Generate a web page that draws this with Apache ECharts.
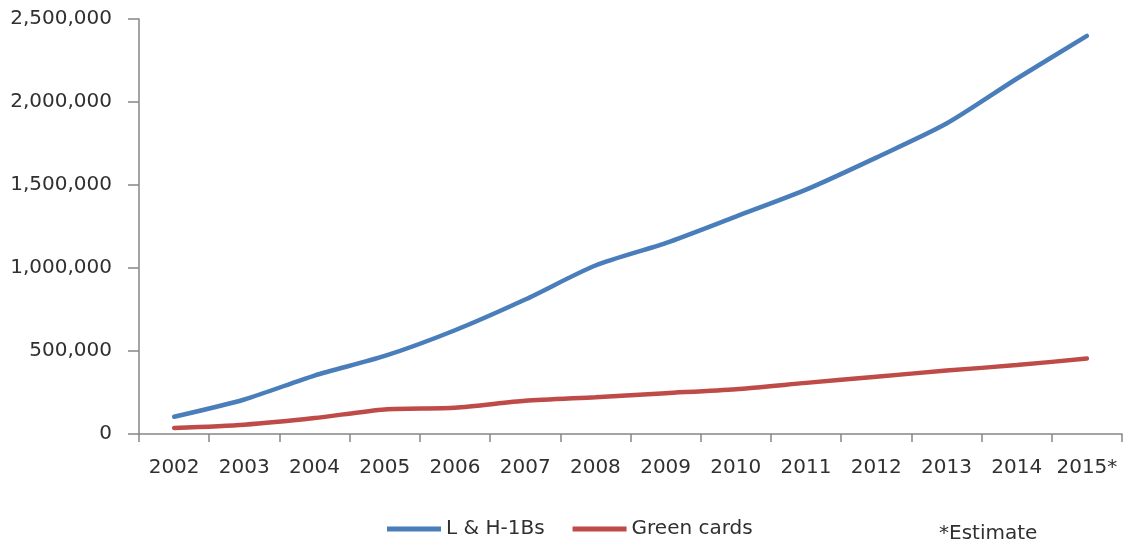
<!DOCTYPE html>
<html>
<head>
<meta charset="utf-8">
<script src="https://cdn.jsdelivr.net/npm/echarts@6/dist/echarts.min.js"></script>
<style>
  html, body { margin: 0; padding: 0; background: #fff; }
  #chart { width: 1123px; height: 544px; }
</style>
</head>
<body>
<div id="chart"></div>
<script>
// Fiscal years on the category axis
const years = ['2002', '2003', '2004', '2005', '2006', '2007', '2008',
               '2009', '2010', '2011', '2012', '2013', '2014', '2015*'];

// Cumulative counts per year
const lH1Bs = [104000, 208000, 352000, 470000, 625000, 810000, 1015000,
               1150000, 1310000, 1472000, 1665000, 1870000, 2140000, 2398000];
const greenCards = [36000, 56000, 96000, 148000, 158000, 200000, 222000,
                    246000, 270000, 308000, 345000, 382000, 415000, 455000];

const seriesNames = ['L & H-1Bs', 'Green cards'];
const footnote = '*Estimate';

const FONT = '"DejaVu Sans", sans-serif';
const FS = 20;
const TEXT = '#303030';
const AXIS = '#868686';

const chart = echarts.init(document.getElementById('chart'), null, { renderer: 'canvas' });

chart.setOption({
  animation: false,
  backgroundColor: '#ffffff',
  textStyle: { fontFamily: FONT },
  grid: { left: 139, right: 1, top: 19, bottom: 110, containLabel: false },
  legend: {
    data: seriesNames,
    left: 382,
    top: 514,
    itemWidth: 54,
    itemHeight: 5,
    itemGap: 28,
    icon: 'rect',
    textStyle: { fontFamily: FONT, fontSize: FS, color: TEXT }
  },
  xAxis: {
    type: 'category',
    data: years,
    boundaryGap: true,
    axisLine: { lineStyle: { color: AXIS, width: 1.5 } },
    axisTick: { show: true, length: 8, inside: false,
                lineStyle: { color: AXIS, width: 1.5 } },
    axisLabel: { margin: 24, fontSize: FS, color: TEXT, fontFamily: FONT, interval: 0 },
    splitLine: { show: false }
  },
  yAxis: {
    type: 'value',
    min: 0,
    max: 2500000,
    interval: 500000,
    axisLine: { show: true, lineStyle: { color: AXIS, width: 1.5 } },
    axisTick: { show: true, length: 11, lineStyle: { color: AXIS, width: 1.5 } },
    axisLabel: {
      margin: 27, fontSize: FS, color: TEXT, fontFamily: FONT,
      formatter: v => v.toLocaleString('en-US')
    },
    splitLine: { show: false }
  },
  series: [
    {
      name: seriesNames[0],
      type: 'line',
      data: lH1Bs,
      smooth: 0.25,
      showSymbol: false,
      symbol: 'none',
      color: '#4a7ebb',
      lineStyle: { color: '#4a7ebb', width: 4.5, cap: 'round' }
    },
    {
      name: seriesNames[1],
      type: 'line',
      data: greenCards,
      smooth: 0.25,
      showSymbol: false,
      symbol: 'none',
      color: '#be4b48',
      lineStyle: { color: '#be4b48', width: 4.5, cap: 'round' }
    }
  ],
  graphic: [
    {
      type: 'text',
      left: 939,
      top: 524,
      style: { text: footnote, fontFamily: FONT, fontSize: FS, fill: TEXT }
    }
  ]
});
</script>
</body>
</html>
